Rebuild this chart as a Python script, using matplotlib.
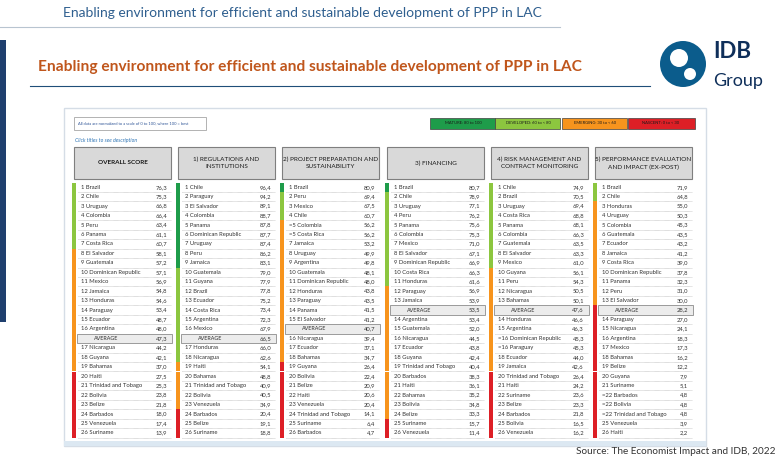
import matplotlib.pyplot as plt
from matplotlib.patches import Rectangle, Circle

plt.rcParams['font.family'] = ['Lato', 'DejaVu Sans']

# ---- data ----
titles = ['OVERALL SCORE', '1) REGULATIONS AND\nINSTITUTIONS',
          '2) PROJECT PREPARATION AND\nSUSTAINABILITY', '3) FINANCING',
          '4) RISK MANAGEMENT AND\nCONTRACT MONITORING',
          '5) PERFORMANCE EVALUATION\nAND IMPACT (EX-POST)']

overall_countries = ['Brazil', 'Chile', 'Uruguay', 'Colombia', 'Peru', 'Panama', 'Costa Rica',
                     'El Salvador', 'Guatemala', 'Dominican Republic', 'Mexico', 'Jamaica',
                     'Honduras', 'Paraguay', 'Ecuador', 'Argentina', 'Nicaragua', 'Guyana',
                     'Bahamas', 'Haiti', 'Trinidad and Tobago', 'Bolivia', 'Belize',
                     'Barbados', 'Venezuela', 'Suriname']
overall_values = [76.3, 75.3, 66.8, 66.4, 63.4, 61.1, 60.7, 58.1, 57.2, 57.1, 56.9, 54.8, 54.6,
                  53.4, 48.7, 48.0, 44.2, 42.1, 37.0, 27.5, 25.3, 23.8, 21.8, 18.0, 17.4, 13.9]
overall_avg = 47.3

regulation_countries = ['Chile', 'Paraguay', 'El Salvador', 'Colombia', 'Panama',
                        'Dominican Republic', 'Uruguay', 'Peru', 'Jamaica', 'Guatemala',
                        'Guyana', 'Brazil', 'Ecuador', 'Costa Rica', 'Argentina', 'Mexico',
                        'Honduras', 'Nicaragua', 'Haiti', 'Bahamas', 'Trinidad and Tobago',
                        'Bolivia', 'Venezuela', 'Barbados', 'Belize', 'Suriname']
regulation_values = [96.4, 94.2, 89.1, 88.7, 87.8, 87.7, 87.4, 86.2, 83.1, 79.0, 77.9, 77.8,
                     75.2, 73.4, 72.3, 67.9, 66.0, 62.6, 54.1, 48.8, 40.9, 40.5, 34.9, 20.4,
                     19.1, 18.8]
regulation_avg = 66.5

preparation_countries = ['Brazil', 'Peru', 'Mexico', 'Chile', 'Colombia', 'Costa Rica',
                         'Jamaica', 'Uruguay', 'Argentina', 'Guatemala', 'Dominican Republic',
                         'Honduras', 'Paraguay', 'Panama', 'El Salvador', 'Nicaragua',
                         'Ecuador', 'Bahamas', 'Guyana', 'Bolivia', 'Belize', 'Haiti',
                         'Venezuela', 'Trinidad and Tobago', 'Suriname', 'Barbados']
preparation_values = [80.9, 69.4, 67.5, 60.7, 56.2, 56.2, 53.2, 49.9, 49.8, 48.1, 48.0, 43.8,
                      43.5, 41.5, 41.2, 39.4, 37.1, 34.7, 26.4, 22.4, 20.9, 20.6, 20.4, 14.1,
                      6.4, 4.7]
preparation_avg = 40.7

financing_countries = ['Brazil', 'Chile', 'Uruguay', 'Peru', 'Panama', 'Colombia', 'Mexico',
                       'El Salvador', 'Dominican Republic', 'Costa Rica', 'Honduras',
                       'Paraguay', 'Jamaica', 'Argentina', 'Guatemala', 'Nicaragua', 'Ecuador',
                       'Guyana', 'Trinidad and Tobago', 'Barbados', 'Haiti', 'Bahamas',
                       'Bolivia', 'Belize', 'Suriname', 'Venezuela']
financing_values = [80.7, 78.9, 77.1, 76.2, 75.6, 75.3, 71.0, 67.1, 66.9, 66.3, 61.6, 56.9,
                    53.9, 53.4, 52.0, 44.5, 43.8, 42.4, 40.4, 38.3, 36.1, 35.2, 34.8, 33.3,
                    15.7, 11.4]
financing_avg = 53.5

risk_countries = ['Chile', 'Brazil', 'Uruguay', 'Costa Rica', 'Panama', 'Colombia',
                  'Guatemala', 'El Salvador', 'Mexico', 'Guyana', 'Peru', 'Nicaragua',
                  'Bahamas', 'Honduras', 'Argentina', 'Dominican Republic', 'Paraguay',
                  'Ecuador', 'Jamaica', 'Trinidad and Tobago', 'Haiti', 'Suriname', 'Belize',
                  'Barbados', 'Bolivia', 'Venezuela']
risk_values = [74.9, 70.5, 69.4, 68.8, 68.1, 66.3, 63.5, 63.3, 61.0, 56.1, 54.3, 50.5, 50.1,
               46.6, 46.3, 45.3, 45.3, 44.0, 42.6, 26.4, 24.2, 23.6, 23.3, 21.8, 16.5, 16.2]
risk_avg = 47.6

performance_countries = ['Brazil', 'Chile', 'Honduras', 'Uruguay', 'Colombia', 'Guatemala',
                         'Ecuador', 'Jamaica', 'Costa Rica', 'Dominican Republic', 'Panama',
                         'Peru', 'El Salvador', 'Paraguay', 'Nicaragua', 'Argentina', 'Mexico',
                         'Bahamas', 'Belize', 'Guyana', 'Suriname', 'Barbados', 'Bolivia',
                         'Trinidad and Tobago', 'Venezuela', 'Haiti']
performance_values = [71.9, 64.8, 55.0, 50.3, 45.3, 43.5, 43.2, 41.2, 39.0, 37.8, 32.3, 31.0,
                      30.0, 27.0, 24.1, 18.3, 17.3, 16.2, 12.2, 7.9, 5.1, 4.8, 4.8, 4.8, 3.9,
                      2.2]
performance_avg = 28.2

legend_labels = ['MATURE: 80 to 100', 'DEVELOPED: 60 to < 80',
                 'EMERGING: 30 to < 60', 'NASCENT: 0 to < 30']
level_colors = ['#1e9c4a', '#8cc63f', '#f7941d', '#dd1f26']

columns = [
    (overall_countries, overall_values, overall_avg),
    (regulation_countries, regulation_values, regulation_avg),
    (preparation_countries, preparation_values, preparation_avg),
    (financing_countries, financing_values, financing_avg),
    (risk_countries, risk_values, risk_avg),
    (performance_countries, performance_values, performance_avg),
]


def level_color(v):
    if v >= 80:
        return level_colors[0]
    if v >= 60:
        return level_colors[1]
    if v >= 30:
        return level_colors[2]
    return level_colors[3]


def fmt(v):
    return ('%.1f' % v).replace('.', ',')


def rank_labels(values):
    labels = []
    for i, v in enumerate(values):
        first = values.index(v)
        tied = values.count(v) > 1
        labels.append(('=%d' % (first + 1)) if tied else str(i + 1))
    return labels


# ---- figure in pixel coordinates ----
W, H = 782, 463
fig = plt.figure(figsize=(W / 100, H / 100), dpi=100)
ax = fig.add_axes([0, 0, 1, 1])
ax.set_xlim(0, W)
ax.set_ylim(H, 0)
ax.axis('off')

# slide header
ax.text(63, 13, 'Enabling environment for efficient and sustainable development of PPP in LAC',
        fontsize=10, color='#2f5f8f', va='center')
ax.plot([0, 560], [27, 27], color='#b8c4d0', lw=0.8)
ax.text(38, 67, 'Enabling environment for efficient and sustainable development of PPP in LAC',
        fontsize=11.2, fontweight='bold', color='#c0561c', va='center')
ax.plot([30, 650], [86, 86], color='#1f4e79', lw=0.8)
ax.add_patch(Rectangle((0, 40), 6, 282, color='#1f3f6e', lw=0))

# logo
ax.add_patch(Circle((683, 64), 23, color='#0b5c8c', lw=0))
ax.add_patch(Circle((679, 58), 9, color='white', lw=0))
ax.add_patch(Circle((690, 74), 6, color='white', lw=0))
ax.text(713, 52, 'IDB', fontsize=16, fontweight='bold', color='#0f2f5a', va='center')
ax.text(713, 81, 'Group', fontsize=13, color='#0f2f5a', va='center')

# table panel
ax.add_patch(Rectangle((64, 108), 642, 338, facecolor='white', edgecolor='#d5dde6', lw=1))
ax.add_patch(Rectangle((64, 441), 642, 5, color='#dce8f2', lw=0))

# info box
ax.add_patch(Rectangle((74, 117), 132, 13, facecolor='white', edgecolor='#a6a6a6', lw=0.6))
ax.text(78, 123.5, 'All data are normalized to a scale of 0 to 100, where 100 = best',
        fontsize=2.9, color='#2f5597', va='center')
ax.text(75, 140, 'Click titles to see description', fontsize=3.8, color='#2f75b5',
        style='italic', va='center')

# legend boxes
lx = [430, 495, 562, 628]
for x0, lab, c in zip(lx, legend_labels, level_colors):
    ax.add_patch(Rectangle((x0, 118), 65 if x0 < 628 else 67, 11, facecolor=c,
                           edgecolor='#404040', lw=0.5))
    ax.text(x0 + 33, 123.5, lab, fontsize=3.0, color='#1a1a1a', ha='center', va='center')

# table columns
col_x = [72, 176, 280, 385, 489, 593]
col_w = 101
row_h = 9.45
top = 182.5

for (countries, values, avg), title, x0 in zip(columns, titles, col_x):
    ax.add_patch(Rectangle((x0 + 2, 147), col_w - 4, 32, facecolor='#d9d9d9',
                           edgecolor='#7f7f7f', lw=0.8))
    ax.text(x0 + col_w / 2, 163, title, fontsize=4.6, ha='center', va='center',
            color='#1a1a1a', fontweight='bold' if title == 'OVERALL SCORE' else 'normal',
            linespacing=1.6)
    ranks = rank_labels(values)
    rows = []
    for r, c, v in zip(ranks, countries, values):
        if v < avg and not any(k == 'avg' for k, *_ in rows):
            rows.append(('avg', 'AVERAGE', avg))
        rows.append(('row', '%s %s' % (r, c), v))
    for i, (kind, label, v) in enumerate(rows):
        y = top + i * row_h
        ax.add_patch(Rectangle((x0, y), 4, row_h, color=level_color(v), lw=0))
        if kind == 'avg':
            ax.add_patch(Rectangle((x0 + 5, y), col_w - 6, row_h, facecolor='#ececec',
                                   edgecolor='#8c8c8c', lw=0.6))
            ax.text(x0 + 22, y + row_h / 2, label, fontsize=3.9, va='center', color='#333333')
        else:
            ax.text(x0 + 9, y + row_h / 2, label, fontsize=4.25, va='center', color='#333333')
            ax.plot([x0 + 6, x0 + col_w - 2], [y + row_h, y + row_h], color='#9a9a9a',
                    lw=0.4, ls=(0, (1, 1)))
        ax.text(x0 + col_w - 6, y + row_h / 2, fmt(v), fontsize=4.25, va='center',
                ha='right', color='#333333')

ax.text(775, 452, 'Source: The Economist Impact and IDB, 2022', fontsize=7.2,
        color='#333333', ha='right', va='center')

fig.savefig('out.png', dpi=100)
